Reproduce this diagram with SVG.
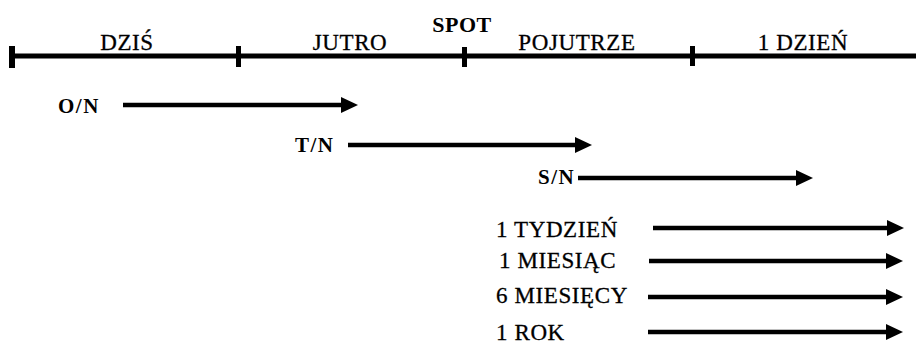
<svg xmlns="http://www.w3.org/2000/svg" width="916" height="344" viewBox="0 0 916 344">
<defs>
<style>
.t{font-family:"Liberation Serif","Times New Roman",serif;font-size:23px;fill:#000;stroke:#000;stroke-width:0.3;letter-spacing:0.6px}
.b{font-family:"Liberation Serif","Times New Roman",serif;font-size:21px;font-weight:bold;fill:#000;letter-spacing:1.5px}
.ax{stroke:#000;stroke-width:5;fill:none}
.tk{fill:#000}
.ar{stroke:#000;stroke-width:4.5;fill:none;marker-end:url(#ah)}
</style>
<marker id="ah" viewBox="0 0 17 16" refX="7" refY="8" markerWidth="17" markerHeight="16" markerUnits="userSpaceOnUse" orient="auto">
<path d="M0,0 L17,8 L0,16 Z" fill="#000"/>
</marker>
</defs>
<g id="timeline">
<line class="ax" x1="10" y1="56" x2="916" y2="56"/>
<rect class="tk" x="9" y="46" width="6" height="22"/>
<rect class="tk" x="236" y="46" width="5" height="21"/>
<rect class="tk" x="462" y="47" width="5" height="20"/>
<rect class="tk" x="690" y="46" width="5" height="20"/>
</g>
<g id="label-dzis"><text class="t" x="127" y="50" text-anchor="middle">DZIŚ</text></g>
<g id="label-jutro"><text class="t" x="350" y="50" text-anchor="middle">JUTRO</text></g>
<g id="label-spot"><text class="b" x="462" y="32" text-anchor="middle" style="font-size:22px;letter-spacing:0.5px">SPOT</text></g>
<g id="label-pojutrze"><text class="t" x="577" y="50" text-anchor="middle">POJUTRZE</text></g>
<g id="label-1dzien"><text class="t" x="803" y="50" text-anchor="middle">1 DZIEŃ</text></g>
<g id="node-on"><text class="b" x="58" y="113">O/N</text></g>
<g id="node-tn"><text class="b" x="295" y="152">T/N</text></g>
<g id="node-sn"><text class="b" x="538" y="184">S/N</text></g>
<g id="node-1t"><text class="t" x="496" y="237">1 TYDZIEŃ</text></g>
<g id="node-1m"><text class="t" x="499" y="268">1 MIESIĄC</text></g>
<g id="node-6m"><text class="t" x="496" y="303">6 MIESIĘCY</text></g>
<g id="node-1r"><text class="t" x="496" y="340">1 ROK</text></g>
<g id="connectors">
<line class="ar" x1="123" y1="105" x2="348" y2="105"/>
<line class="ar" x1="348" y1="145" x2="582" y2="145"/>
<line class="ar" x1="578" y1="178" x2="803" y2="178"/>
<line class="ar" x1="653" y1="228" x2="894" y2="228"/>
<line class="ar" x1="649" y1="261" x2="893" y2="261"/>
<line class="ar" x1="648" y1="297" x2="893" y2="297"/>
<line class="ar" x1="648" y1="332" x2="893" y2="332"/>
</g>
</svg>
